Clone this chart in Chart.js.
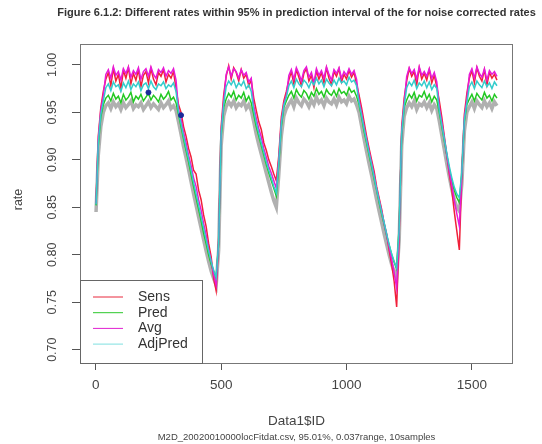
<!DOCTYPE html>
<html>
<head>
<meta charset="utf-8">
<script src="https://cdn.jsdelivr.net/npm/chart.js@4.4.1/dist/chart.umd.min.js"></script>
<style>
  html, body { margin: 0; padding: 0; background: #fff; }
  #wrap { width: 542px; height: 444px; }
</style>
</head>
<body>
<div id="wrap"><canvas id="rateChart" width="542" height="444"></canvas></div>
<script>
// 数据 (every 10th ID)
const ids = Array.from({length: 161}, (_, i) => i === 0 ? 1 : i * 10);

const sens = [
  .855,.925,.955,.972,
  .985,.992,.978,.996,.983,.990,.975,.994,.986,.997,.980,.991,.984,.995,.977,.989,.993,.981,.996,.985,.979,.992,.988,.995,.982,.990,.986,.993,.975,
  .958,.950,.935,.925,.912,.903,.889,.885,.868,.858,.842,.830,.812,.798,.775,.762,
  .815,.935,.968,
  .988,.999,.985,.997,.992,.983,.995,.986,.990,.978,.984,
  .965,.952,.940,.932,.918,.910,.900,.893,.885,.878,
  .905,.945,.962,.972,
  .984,.993,.980,.995,.987,.978,.991,.996,.983,.989,.976,.994,.985,.992,.981,.997,.986,.979,.993,.988,.996,.982,.990,.985,.994,.987,.992,.980,
  .968,.955,.940,.925,.912,.900,.888,.872,.860,.848,.833,.822,.805,.790,.772,.745,
  .820,.935,.965,
  .983,.996,.988,.993,.979,.997,.985,.991,.984,.995,.981,.989,.977,
  .962,.945,.925,.905,.885,.868,.845,.825,.805,
  .885,.948,.970,
  .986,.994,.981,.997,.988,.983,.995,.979,.992,.986,.990,.984
];

const pred = [
  .852,.915,.945,.958,
  .965,.968,.962,.970,.964,.967,.960,.969,.963,.966,.971,.961,.967,.964,.969,.962,.966,.970,.963,.968,.965,.961,.969,.964,.967,.972,.963,.966,.960,
  .948,.935,.922,.910,.898,.885,.872,.860,.848,.836,.823,.812,.800,.790,.782,.775,
  .812,.925,.955,
  .964,.970,.966,.972,.963,.968,.965,.971,.962,.967,.960,
  .948,.935,.925,.915,.905,.895,.886,.878,.870,.862,
  .895,.935,.955,.962,
  .968,.972,.965,.974,.969,.966,.973,.970,.964,.971,.967,.975,.969,.972,.966,.974,.970,.968,.973,.967,.975,.970,.972,.968,.976,.971,.973,.967,
  .958,.945,.930,.918,.905,.893,.880,.868,.855,.843,.832,.820,.810,.800,.792,.785,
  .830,.925,.955,
  .963,.969,.965,.971,.962,.968,.966,.972,.964,.969,.961,.967,.963,
  .950,.935,.920,.905,.890,.878,.868,.860,.855,
  .885,.940,.958,
  .964,.969,.962,.970,.966,.963,.971,.965,.968,.962,.969,.965
];

const avg = [
  .854,.922,.952,.968,
  .990,.995,.986,.998,.989,.993,.984,.996,.991,.998,.987,.994,.990,.997,.985,.993,.996,.988,.998,.990,.986,.995,.992,.997,.988,.994,.991,.996,.984,
  .953,.943,.929,.918,.905,.894,.881,.872,.858,.847,.833,.821,.806,.794,.779,.768,
  .814,.930,.962,
  .990,.998,.988,.996,.993,.986,.995,.989,.992,.982,.986,
  .957,.944,.933,.924,.912,.903,.893,.886,.878,.870,
  .900,.940,.959,.968,
  .989,.995,.985,.997,.991,.983,.994,.998,.987,.992,.981,.996,.989,.994,.986,.998,.990,.984,.995,.991,.997,.986,.993,.989,.996,.990,.994,.985,
  .963,.950,.935,.922,.909,.897,.884,.870,.858,.846,.833,.821,.808,.795,.781,.765,
  .825,.930,.960,
  .988,.997,.991,.995,.985,.998,.989,.993,.988,.996,.986,.992,.982,
  .956,.940,.923,.905,.888,.873,.857,.843,.830,
  .885,.944,.964,
  .990,.996,.986,.998,.991,.987,.996,.984,.994,.990,.993,.988
];

const adjPred = [
  .853,.918,.948,.962,
  .976,.980,.973,.982,.977,.979,.972,.981,.976,.983,.974,.980,.977,.982,.973,.979,.981,.975,.983,.977,.974,.980,.978,.982,.975,.979,.977,.981,.972,
  .950,.938,.925,.913,.901,.889,.876,.864,.852,.840,.828,.816,.804,.793,.784,.776,
  .813,.928,.958,
  .977,.983,.979,.984,.976,.981,.978,.983,.975,.979,.972,
  .952,.939,.928,.918,.908,.898,.889,.881,.872,.865,
  .898,.938,.957,.966,
  .978,.983,.976,.985,.980,.977,.984,.981,.976,.983,.979,.986,.980,.984,.977,.985,.981,.978,.984,.979,.986,.981,.983,.979,.987,.982,.984,.978,
  .960,.947,.933,.920,.907,.895,.882,.869,.857,.845,.834,.822,.811,.801,.793,.786,
  .828,.928,.957,
  .976,.982,.978,.984,.975,.981,.978,.983,.976,.982,.974,.979,.975,
  .952,.937,.922,.907,.893,.881,.871,.864,.860,
  .888,.942,.960,
  .977,.982,.975,.983,.979,.976,.983,.977,.981,.975,.982,.978
];

// 预测区间下界 (gray)
const lowerBound = [
  .845,.905,.935,.950,
  .957,.960,.954,.961,.956,.959,.953,.960,.955,.958,.962,.954,.958,.956,.960,.953,.957,.961,.955,.959,.956,.953,.960,.955,.958,.962,.954,.957,.952,
  .940,.927,.914,.902,.890,.877,.864,.852,.840,.828,.816,.804,.793,.783,.775,.768,
  .805,.915,.946,
  .956,.961,.957,.962,.955,.959,.957,.962,.954,.958,.952,
  .940,.927,.916,.906,.896,.886,.876,.866,.857,.850,
  .885,.925,.946,.954,
  .959,.963,.956,.965,.960,.957,.964,.961,.956,.963,.958,.966,.960,.963,.957,.965,.961,.959,.964,.958,.966,.961,.963,.959,.967,.962,.964,.958,
  .950,.936,.922,.909,.896,.884,.871,.858,.846,.834,.822,.811,.800,.790,.782,.776,
  .815,.915,.946,
  .955,.960,.956,.962,.953,.959,.957,.961,.955,.960,.952,.958,.954,
  .941,.926,.911,.896,.882,.869,.858,.850,.846,
  .875,.930,.950,
  .956,.961,.954,.962,.958,.955,.962,.956,.960,.954,.961,.957
];

// 标记点
const markIds = [210, 340];
const markVals = [.971, .947];

const xTicks = [0, 500, 1000, 1500];
const yTicks = [0.70, 0.75, 0.80, 0.85, 0.90, 0.95, 1.00];

const FONT = "'Liberation Sans', Arial, Helvetica, sans-serif";

function pts(vals) {
  return ids.map((x, i) => ({x: x, y: vals[i]}));
}

function lineSet(label, vals, color, order, width) {
  return {
    label: label,
    data: pts(vals),
    borderColor: color,
    backgroundColor: color,
    borderWidth: width || 1.5,
    pointRadius: 0,
    tension: 0,
    fill: false,
    order: order
  };
}

const legendItems = [
  {label: 'Sens', color: '#e8283c'},
  {label: 'Pred', color: '#2cc82c'},
  {label: 'Avg', color: '#e020d0'},
  {label: 'AdjPred', color: '#7fe0e0'}
];

// 边框、图例和文字
const decorPlugin = {
  id: 'decor',
  afterDraw(chart) {
    const ctx = chart.ctx;
    const a = chart.chartArea;
    const yScale = chart.scales.y;
    const cx = (a.left + a.right) / 2;
    ctx.save();

    // plot box
    ctx.strokeStyle = '#777';
    ctx.lineWidth = 1;
    ctx.strokeRect(a.left + 0.5, a.top + 0.5, a.right - a.left - 1, a.bottom - a.top);

    // y tick labels, rotated like R
    ctx.fillStyle = '#444';
    ctx.font = '12.5px ' + FONT;
    ctx.textAlign = 'center';
    ctx.textBaseline = 'middle';
    yTicks.forEach(v => {
      const py = yScale.getPixelForValue(v);
      ctx.save();
      ctx.translate(53, py);
      ctx.rotate(-Math.PI / 2);
      ctx.fillText(v.toFixed(2), 0, 0);
      ctx.restore();
    });

    // y axis title
    ctx.save();
    ctx.translate(19, (a.top + a.bottom) / 2 - 4);
    ctx.rotate(-Math.PI / 2);
    ctx.font = '12.5px ' + FONT;
    ctx.fillText('rate', 0, 0);
    ctx.restore();

    // x axis title & note
    ctx.font = '13.5px ' + FONT;
    ctx.fillText('Data1$ID', cx, 421);
    ctx.font = '9.5px ' + FONT;
    ctx.fillText('M2D_20020010000locFitdat.csv, 95.01%, 0.037range, 10samples', cx, 437);

    // title
    ctx.font = 'bold 11px ' + FONT;
    ctx.fillStyle = '#333';
    ctx.fillText('Figure 6.1.2: Different rates within 95% in prediction interval of the for noise corrected rates', cx, 13);

    // legend
    const lw = 122, lh = 83;
    const lx = a.left, ly = a.bottom - lh;
    ctx.fillStyle = '#fff';
    ctx.fillRect(lx + 1, ly, lw, lh);
    ctx.strokeStyle = '#666';
    ctx.strokeRect(lx + 0.5, ly + 0.5, lw, lh);
    ctx.font = '14px ' + FONT;
    ctx.textAlign = 'left';
    legendItems.forEach((it, i) => {
      const y = ly + 17 + i * 15.7;
      ctx.strokeStyle = it.color;
      ctx.lineWidth = 1;
      ctx.beginPath();
      ctx.moveTo(lx + 13, y);
      ctx.lineTo(lx + 43, y);
      ctx.stroke();
      ctx.fillStyle = '#333';
      ctx.fillText(it.label, lx + 58, y);
    });
    ctx.restore();
  }
};

const ctx = document.getElementById('rateChart').getContext('2d');
const rateChart = new Chart(ctx, {
  type: 'line',
  data: {
    datasets: [
      {
        label: 'marks',
        type: 'scatter',
        data: markIds.map((x, i) => ({x: x, y: markVals[i]})),
        backgroundColor: '#1a2a9a',
        borderColor: '#1a2a9a',
        pointRadius: 2.5,
        showLine: false,
        order: 1
      },
      lineSet('AdjPred', adjPred, '#33cccc', 2),
      lineSet('Avg', avg, '#e81ad8', 3),
      lineSet('Pred', pred, '#22c822', 4),
      lineSet('Sens', sens, '#f0203a', 5),
      lineSet('bound', lowerBound, 'rgba(150,150,150,0.75)', 6, 3.5)
    ]
  },
  options: {
    responsive: false,
    animation: false,
    events: [],
    layout: { padding: { left: 0, right: 29, top: 44, bottom: 0 } },
    plugins: {
      legend: { display: false },
      tooltip: { enabled: false },
      title: { display: false }
    },
    scales: {
      x: {
        type: 'linear',
        min: -63,
        max: 1664,
        afterBuildTicks: s => { s.ticks = xTicks.map(v => ({value: v})); },
        afterFit: s => { s.height = 81; },
        border: { display: false },
        grid: { drawOnChartArea: false, drawTicks: true, tickLength: 7, color: '#555' },
        ticks: {
          maxRotation: 0,
          padding: 7,
          color: '#444',
          font: { family: FONT, size: 13.5 },
          callback: v => String(v)
        }
      },
      y: {
        min: 0.686,
        max: 1.022,
        afterBuildTicks: s => { s.ticks = yTicks.map(v => ({value: v})); },
        afterFit: s => { s.width = 80; },
        border: { display: false },
        grid: { drawOnChartArea: false, drawTicks: true, tickLength: 8, color: '#555' },
        ticks: { display: false }
      }
    }
  },
  plugins: [decorPlugin]
});
</script>
</body>
</html>
